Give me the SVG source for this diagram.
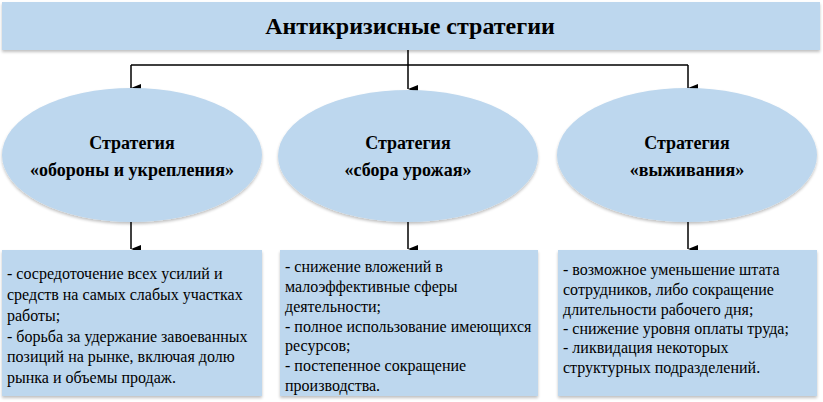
<svg xmlns="http://www.w3.org/2000/svg" width="823" height="402" viewBox="0 0 823 402">
<defs>
<marker id="arr" markerWidth="8" markerHeight="10" refX="4" refY="10" orient="auto-start-reverse" markerUnits="userSpaceOnUse" viewBox="0 0 8 10">
<path d="M0,0 L8,0 L4,10 Z" fill="#000"/>
</marker>
<filter id="sh" x="-5%" y="-5%" width="110%" height="115%">
<feGaussianBlur in="SourceAlpha" stdDeviation="1.5"/>
<feOffset dx="0" dy="1.5" result="b"/>
<feComponentTransfer><feFuncA type="linear" slope="0.25"/></feComponentTransfer>
<feMerge><feMergeNode/><feMergeNode in="SourceGraphic"/></feMerge>
</filter>
</defs>
<style>
.fill{fill:#BDD7EE;filter:url(#sh)}
.title{font-family:"Liberation Serif","DejaVu Serif",serif;font-weight:bold;font-size:24px;fill:#000;text-anchor:middle}
.el{font-family:"Liberation Serif","DejaVu Serif",serif;font-weight:bold;font-size:18px;fill:#000;text-anchor:middle}
.tx{font-family:"Liberation Serif","DejaVu Serif",serif;font-size:16px;fill:#000}
.ln{stroke:#000;stroke-width:1.5;fill:none}
</style>
<rect width="823" height="402" fill="#fff"/>
<g id="root">
<rect class="fill" x="2" y="2" width="818" height="48"/>
<text class="title" x="410" y="34">Антикризисные стратегии</text>
</g>
<g id="connectors">
<path class="ln" d="M408,50 V65 M131,65 H688"/>
<path class="ln" d="M131,65 V88" marker-end="url(#arr)"/>
<path class="ln" d="M408,65 V89" marker-end="url(#arr)"/>
<path class="ln" d="M688,65 V88" marker-end="url(#arr)"/>
<path class="ln" d="M131,222 V249" marker-end="url(#arr)"/>
<path class="ln" d="M408,222 V249" marker-end="url(#arr)"/>
<path class="ln" d="M688,222 V249" marker-end="url(#arr)"/>
</g>
<g id="e1">
<ellipse class="fill" cx="132" cy="155" rx="130" ry="67"/>
<text class="el" x="132" y="149">Стратегия</text>
<text class="el" x="132" y="176">«обороны и укрепления»</text>
</g>
<g id="e2">
<ellipse class="fill" cx="408" cy="156" rx="130" ry="66"/>
<text class="el" x="408" y="149">Стратегия</text>
<text class="el" x="408" y="176">«сбора урожая»</text>
</g>
<g id="e3">
<ellipse class="fill" cx="687" cy="155" rx="130" ry="67"/>
<text class="el" x="687" y="149">Стратегия</text>
<text class="el" x="687" y="176">«выживания»</text>
</g>
<g id="b1">
<rect class="fill" x="2" y="250" width="260" height="146"/>
<text class="tx" x="7" y="279">- сосредоточение всех усилий и</text>
<text class="tx" x="7" y="300">средств на самых слабых участках</text>
<text class="tx" x="7" y="321">работы;</text>
<text class="tx" x="7" y="342">- борьба за удержание завоеванных</text>
<text class="tx" x="7" y="362">позиций на рынке, включая долю</text>
<text class="tx" x="7" y="383">рынка и объемы продаж.</text>
</g>
<g id="b2">
<rect class="fill" x="280" y="250" width="258" height="146"/>
<text class="tx" x="285" y="272">- снижение вложений в</text>
<text class="tx" x="285" y="292">малоэффективные сферы</text>
<text class="tx" x="285" y="312">деятельности;</text>
<text class="tx" x="285" y="332">- полное использование имеющихся</text>
<text class="tx" x="285" y="351">ресурсов;</text>
<text class="tx" x="285" y="371">- постепенное сокращение</text>
<text class="tx" x="285" y="391">производства.</text>
</g>
<g id="b3">
<rect class="fill" x="558" y="250" width="259" height="146"/>
<text class="tx" x="563" y="275">- возможное уменьшение штата</text>
<text class="tx" x="563" y="295">сотрудников, либо сокращение</text>
<text class="tx" x="563" y="315">длительности рабочего дня;</text>
<text class="tx" x="563" y="334">- снижение уровня оплаты труда;</text>
<text class="tx" x="563" y="353">- ликвидация некоторых</text>
<text class="tx" x="563" y="373">структурных подразделений.</text>
</g>
</svg>
